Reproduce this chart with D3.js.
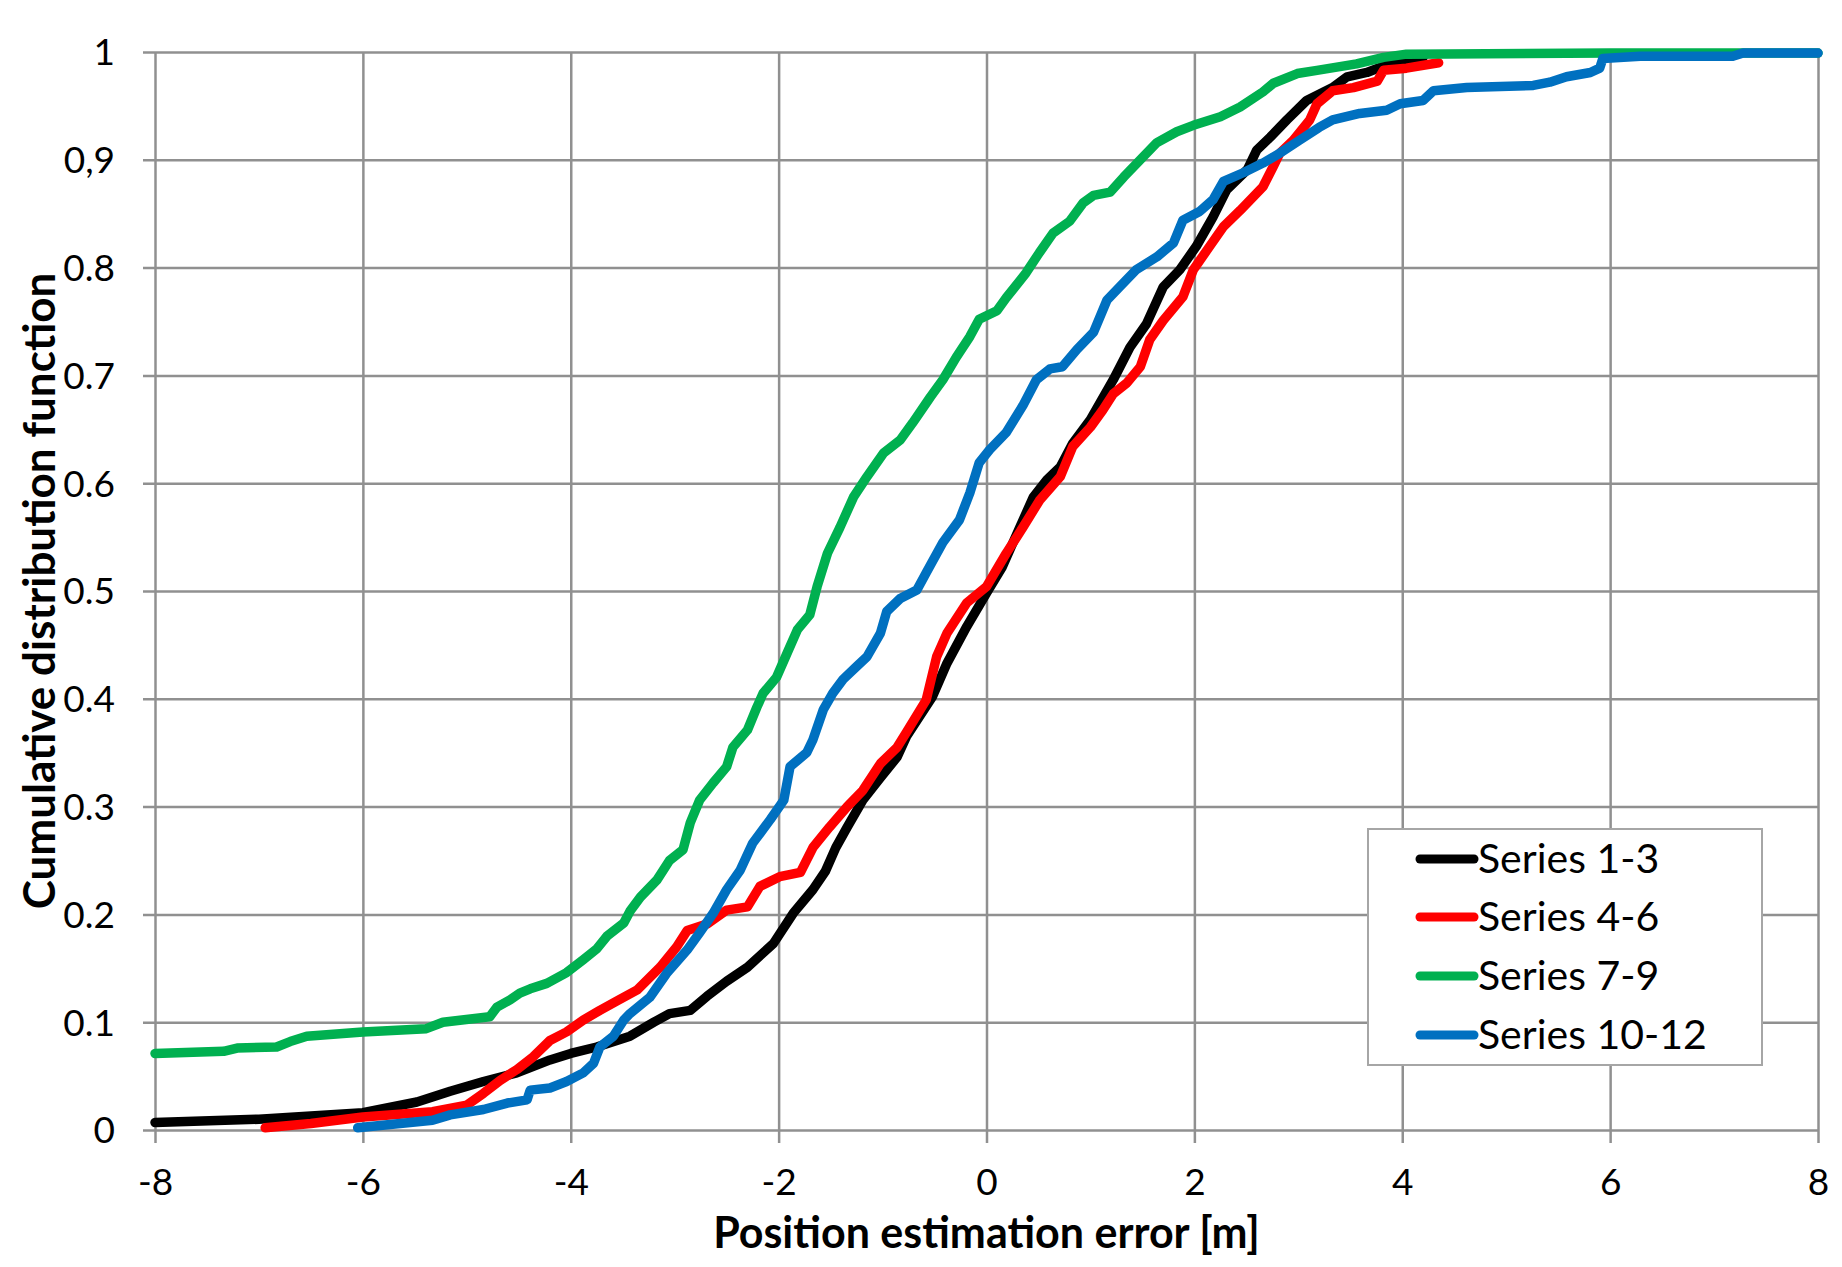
<!DOCTYPE html>
<html>
<head>
<meta charset="utf-8">
<script src="https://cdn.jsdelivr.net/npm/d3@7"></script>
<style>
  html, body { margin: 0; padding: 0; background: #ffffff; }
  svg { display: block; }
  text { font-family: Lato, "Open Sans", "Noto Sans", sans-serif; fill: #000; }
</style>
</head>
<body>
<svg id="chart" width="1842" height="1267"></svg>
<script>
// ---------------- DATA ----------------
const xTickValues = [-8, -6, -4, -2, 0, 2, 4, 6, 8];
const xTickLabels = ["-8", "-6", "-4", "-2", "0", "2", "4", "6", "8"];
const yTickValues = [0, 0.1, 0.2, 0.3, 0.4, 0.5, 0.6, 0.7, 0.8, 0.9, 1];
const yTickLabels = ["0", "0.1", "0.2", "0.3", "0.4", "0.5", "0.6", "0.7", "0.8", "0,9", "1"];

const seriesNames = ["Series 1-3", "Series 4-6", "Series 7-9", "Series 10-12"];
const seriesColors = ["#000000", "#ff0000", "#00b050", "#0070c0"];

const series1to3 = [
  [-8, 0.007], [-7, 0.010], [-6, 0.016], [-5.48, 0.026], [-5.16, 0.036], [-4.84, 0.045],
  [-4.52, 0.053], [-4.2, 0.065], [-4.0, 0.071], [-3.75, 0.077], [-3.43, 0.087], [-3.2, 0.100],
  [-3.05, 0.108], [-2.85, 0.111], [-2.69, 0.124], [-2.50, 0.138], [-2.30, 0.151], [-2.05, 0.173],
  [-1.86, 0.201], [-1.67, 0.223], [-1.55, 0.240], [-1.45, 0.262], [-1.34, 0.281], [-1.19, 0.306],
  [-1.02, 0.327], [-0.86, 0.346], [-0.77, 0.365], [-0.52, 0.402], [-0.38, 0.433], [-0.19, 0.467],
  [0.0, 0.498], [0.15, 0.522], [0.32, 0.559], [0.45, 0.587], [0.58, 0.603], [0.71, 0.615],
  [0.83, 0.637], [1.0, 0.659], [1.22, 0.696], [1.38, 0.726], [1.54, 0.748], [1.70, 0.782],
  [1.86, 0.798], [2.02, 0.820], [2.18, 0.847], [2.31, 0.872], [2.51, 0.891], [2.60, 0.909],
  [2.73, 0.921], [2.89, 0.937], [3.08, 0.955], [3.33, 0.967], [3.47, 0.977], [3.66, 0.981],
  [3.85, 0.988], [4.0, 0.991], [4.2, 0.995]
];

const series4to6 = [
  [-6.94, 0.002], [-6.5, 0.006], [-6.0, 0.012], [-5.33, 0.017], [-5.0, 0.023], [-4.84, 0.034],
  [-4.68, 0.046], [-4.52, 0.056], [-4.36, 0.068], [-4.2, 0.083], [-4.04, 0.091], [-3.88, 0.102],
  [-3.72, 0.111], [-3.55, 0.120], [-3.36, 0.130], [-3.14, 0.151], [-2.98, 0.170], [-2.88, 0.185],
  [-2.69, 0.191], [-2.5, 0.204], [-2.30, 0.207], [-2.18, 0.226], [-1.99, 0.235], [-1.79, 0.239],
  [-1.67, 0.262], [-1.51, 0.281], [-1.34, 0.300], [-1.19, 0.315], [-1.02, 0.340], [-0.86, 0.355],
  [-0.77, 0.369], [-0.58, 0.399], [-0.48, 0.439], [-0.38, 0.461], [-0.19, 0.489], [0.0, 0.504],
  [0.19, 0.535], [0.35, 0.559], [0.51, 0.584], [0.71, 0.606], [0.83, 0.634], [1.0, 0.652],
  [1.12, 0.668], [1.22, 0.683], [1.35, 0.693], [1.48, 0.708], [1.57, 0.733], [1.70, 0.751],
  [1.89, 0.773], [1.99, 0.798], [2.12, 0.816], [2.28, 0.838], [2.44, 0.853], [2.66, 0.875],
  [2.76, 0.894], [2.82, 0.906], [2.95, 0.918], [3.11, 0.937], [3.18, 0.952], [3.33, 0.964],
  [3.53, 0.967], [3.76, 0.973], [3.82, 0.983], [4.04, 0.985], [4.35, 0.990]
];

const series7to9 = [
  [-8, 0.071], [-7.34, 0.073], [-7.21, 0.076], [-6.83, 0.077], [-6.70, 0.082], [-6.54, 0.087],
  [-6.0, 0.091], [-5.39, 0.094], [-5.23, 0.100], [-4.78, 0.105], [-4.71, 0.114], [-4.58, 0.121],
  [-4.49, 0.127], [-4.39, 0.131], [-4.23, 0.136], [-4.04, 0.146], [-3.88, 0.158], [-3.75, 0.168],
  [-3.65, 0.180], [-3.49, 0.192], [-3.43, 0.203], [-3.33, 0.216], [-3.17, 0.232], [-3.05, 0.250],
  [-2.92, 0.260], [-2.85, 0.285], [-2.76, 0.306], [-2.63, 0.322], [-2.50, 0.337], [-2.44, 0.355],
  [-2.30, 0.371], [-2.21, 0.392], [-2.15, 0.405], [-2.02, 0.420], [-1.92, 0.442], [-1.82, 0.464],
  [-1.70, 0.478], [-1.63, 0.504], [-1.53, 0.535], [-1.41, 0.559], [-1.28, 0.587], [-1.15, 0.606],
  [-0.99, 0.628], [-0.83, 0.640], [-0.71, 0.656], [-0.54, 0.680], [-0.42, 0.696], [-0.29, 0.717],
  [-0.16, 0.736], [-0.07, 0.752], [0.10, 0.760], [0.19, 0.772], [0.38, 0.795], [0.51, 0.814],
  [0.64, 0.832], [0.80, 0.843], [0.93, 0.860], [1.03, 0.867], [1.19, 0.870], [1.32, 0.884],
  [1.48, 0.900], [1.64, 0.916], [1.83, 0.926], [1.99, 0.932], [2.25, 0.940], [2.44, 0.949],
  [2.66, 0.963], [2.76, 0.971], [2.99, 0.980], [3.18, 0.983], [3.56, 0.989], [3.82, 0.995],
  [4.04, 0.998], [6.0, 0.999], [8.0, 0.999]
];

const series10to12 = [
  [-6.05, 0.002], [-5.33, 0.009], [-5.16, 0.014], [-4.84, 0.019], [-4.61, 0.025], [-4.42, 0.028],
  [-4.39, 0.037], [-4.2, 0.039], [-4.04, 0.045], [-3.88, 0.053], [-3.78, 0.062], [-3.72, 0.077],
  [-3.59, 0.087], [-3.49, 0.102], [-3.43, 0.108], [-3.24, 0.123], [-3.08, 0.145], [-2.88, 0.167],
  [-2.76, 0.183], [-2.63, 0.201], [-2.50, 0.223], [-2.37, 0.241], [-2.25, 0.266], [-2.08, 0.288],
  [-1.95, 0.306], [-1.89, 0.337], [-1.73, 0.350], [-1.67, 0.362], [-1.57, 0.390], [-1.48, 0.405],
  [-1.38, 0.418], [-1.25, 0.430], [-1.15, 0.439], [-1.02, 0.461], [-0.96, 0.481], [-0.83, 0.493],
  [-0.67, 0.501], [-0.58, 0.517], [-0.42, 0.545], [-0.26, 0.566], [-0.16, 0.591], [-0.07, 0.619],
  [0.03, 0.631], [0.19, 0.647], [0.35, 0.672], [0.48, 0.696], [0.61, 0.706], [0.73, 0.708],
  [0.87, 0.724], [1.03, 0.740], [1.16, 0.770], [1.28, 0.782], [1.44, 0.798], [1.64, 0.810],
  [1.80, 0.823], [1.89, 0.844], [2.05, 0.852], [2.18, 0.863], [2.28, 0.880], [2.47, 0.888],
  [2.66, 0.897], [2.82, 0.906], [3.01, 0.918], [3.20, 0.930], [3.33, 0.937], [3.59, 0.943],
  [3.85, 0.946], [3.98, 0.952], [4.20, 0.955], [4.30, 0.964], [4.62, 0.967], [5.26, 0.969],
  [5.42, 0.972], [5.58, 0.977], [5.81, 0.981], [5.90, 0.985], [5.93, 0.994], [6.29, 0.996],
  [7.18, 0.996], [7.28, 0.999], [8.0, 0.999]
];

const allSeries = [series1to3, series4to6, series7to9, series10to12];

const xTitle = "Position estimation error [m]";
const yTitle = "Cumulative distribution function";

// ---------------- DRAW ----------------
(function () {
const svg = d3.select("#chart");
const plotL = 155, plotR = 1818, plotT = 52, plotB = 1130;
const gridColor = "#909090";

const x = d3.scaleLinear().domain([-8, 8]).range([plotL, plotR]);
const y = d3.scaleLinear().domain([0, 1]).range([plotB, plotT]);

// vertical gridlines + outward ticks
const xAxis = d3.axisBottom(x).tickValues(xTickValues).tickSize(13)
  .tickFormat((d, i) => xTickLabels[i]);
const gx = svg.append("g").attr("transform", `translate(0,${plotB})`).call(xAxis);
gx.select(".domain").remove();
gx.selectAll(".tick line").attr("stroke", gridColor).attr("stroke-width", 2.5)
  .attr("y1", -(plotB - plotT)).attr("y2", 13);
gx.selectAll(".tick text").attr("y", 52).attr("dy", "0.35em")
  .style("font-size", "37px").style("font-family", "Lato, sans-serif");

// horizontal gridlines + outward ticks
const yAxis = d3.axisLeft(y).tickValues(yTickValues).tickSize(12)
  .tickFormat((d, i) => yTickLabels[i]);
const gy = svg.append("g").attr("transform", `translate(${plotL},0)`).call(yAxis);
gy.select(".domain").remove();
gy.selectAll(".tick line").attr("stroke", gridColor).attr("stroke-width", 2.5)
  .attr("x1", plotR - plotL).attr("x2", -12);
gy.selectAll(".tick text").attr("x", -40).attr("dy", "0.35em")
  .style("font-size", "37px").style("font-family", "Lato, sans-serif");

// series lines
const line = d3.line().x(d => x(d[0])).y(d => y(d[1])).curve(d3.curveLinear);
svg.append("g").selectAll("path").data(allSeries).join("path")
  .attr("d", line)
  .attr("fill", "none")
  .attr("stroke", (d, i) => seriesColors[i])
  .attr("stroke-width", 9.5)
  .attr("stroke-linejoin", "round")
  .attr("stroke-linecap", "round");

// axis titles
svg.append("text")
  .attr("x", (plotL + plotR) / 2).attr("y", 1233)
  .attr("text-anchor", "middle").attr("dy", "0.35em")
  .style("font-size", "43px").style("font-weight", "bold")
  .text(xTitle);

svg.append("text")
  .attr("transform", `translate(40,${(plotT + plotB) / 2}) rotate(-90)`)
  .attr("text-anchor", "middle").attr("dy", "0.35em")
  .style("font-size", "44px").style("font-weight", "bold")
  .text(yTitle);

// legend
const lg = svg.append("g");
lg.append("rect")
  .attr("x", 1368).attr("y", 829).attr("width", 394).attr("height", 236)
  .attr("fill", "#ffffff").attr("stroke", "#a6a6a6").attr("stroke-width", 2);
const rowY = [859, 917, 976, 1035];
const items = lg.selectAll("g.item").data(seriesNames).join("g").attr("class", "item")
  .attr("transform", (d, i) => `translate(0,${rowY[i]})`);
items.append("line")
  .attr("x1", 1420).attr("x2", 1474).attr("y1", 0).attr("y2", 0)
  .attr("stroke", (d, i) => seriesColors[i]).attr("stroke-width", 9)
  .attr("stroke-linecap", "round");
items.append("text")
  .attr("x", 1478).attr("y", 0).attr("dy", "0.35em")
  .style("font-size", "41px")
  .text(d => d);
})();
</script>
</body>
</html>
